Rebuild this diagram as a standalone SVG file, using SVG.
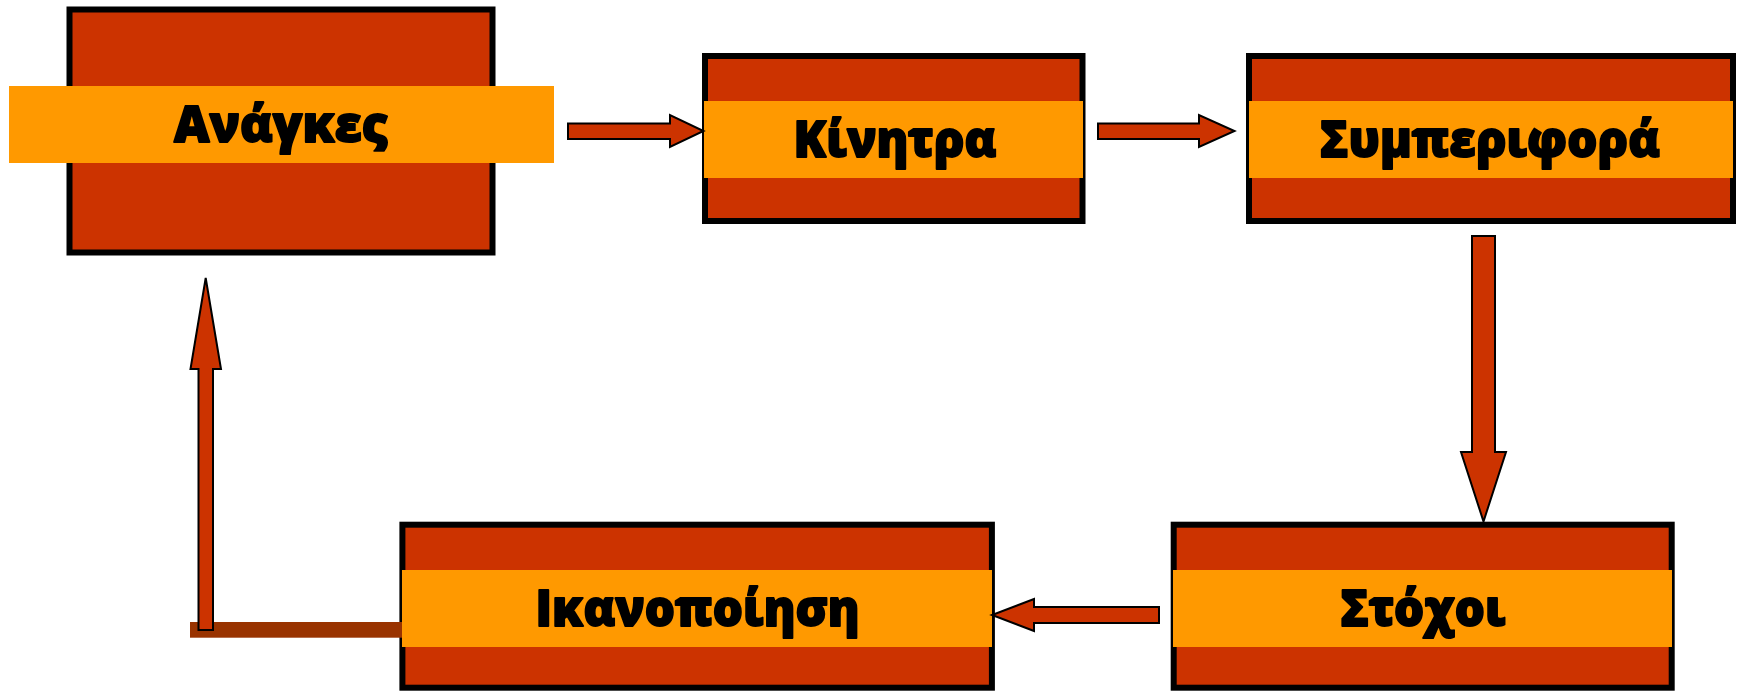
<svg xmlns="http://www.w3.org/2000/svg" width="1739" height="691" viewBox="0 0 1739 691">
<style>
.box{fill:#CC3300;stroke:#000;stroke-width:6}
.band{fill:#FF9900}
.lbl{font-family:"Open Sans","Noto Sans","DejaVu Sans",sans-serif;font-weight:800;font-size:50px;fill:#000;stroke:#000;stroke-width:1.8;stroke-linejoin:round;text-anchor:middle}
.arr{fill:#CC3300;stroke:#000;stroke-width:2;stroke-linejoin:miter}
</style>
<rect width="1739" height="691" fill="#fff"/>
<g id="node-anagkes">
<rect class="box" x="69.5" y="9.5" width="423" height="243"/>
<rect class="band" x="9" y="86" width="545" height="77"/>
<text class="lbl" x="281" y="142" textLength="214" lengthAdjust="spacingAndGlyphs">Ανάγκες</text>
</g>
<g id="node-kinitra">
<rect class="box" x="705" y="56" width="377.5" height="165"/>
<rect class="band" x="704" y="101" width="379" height="77"/>
<text class="lbl" x="895" y="157" textLength="203" lengthAdjust="spacingAndGlyphs">Κίνητρα</text>
</g>
<g id="node-symperifora">
<rect class="box" x="1249" y="56" width="484" height="165"/>
<rect class="band" x="1249" y="101" width="484" height="77"/>
<text class="lbl" x="1490" y="157" textLength="340" lengthAdjust="spacingAndGlyphs">Συμπεριφορά</text>
</g>
<g id="node-stoxoi">
<rect class="box" x="1173.7" y="524.7" width="498" height="163"/>
<rect class="band" x="1173" y="570" width="499" height="77"/>
<text class="lbl" x="1423" y="626" textLength="165" lengthAdjust="spacingAndGlyphs">Στόχοι</text>
</g>
<g id="node-ikanopoiisi">
<rect class="box" x="402.4" y="524.7" width="589.5" height="163"/>
<rect class="band" x="402" y="570" width="590" height="77"/>
<text class="lbl" x="697.6" y="626" textLength="324" lengthAdjust="spacingAndGlyphs">Ικανοποίηση</text>
</g>
<g id="connectors">
<rect x="190" y="622" width="212" height="15.7" fill="#993300"/>
<polygon class="arr" points="568,123.5 670,123.5 670,115 703.5,131 670,147 670,139 568,139"/>
<polygon class="arr" points="1098,123.5 1199,123.5 1199,115 1234.5,131 1199,147 1199,139 1098,139"/>
<polygon class="arr" points="1472,236 1495,236 1495,452 1506,452 1483.5,521.5 1461,452 1472,452"/>
<polygon class="arr" points="1159,607 1034,607 1034,599 992,615 1034,631 1034,623 1159,623"/>
<polygon class="arr" points="198.5,630 198.5,369 190.5,369 205.7,278 221,369 213,369 213,630"/>
</g>
</svg>
